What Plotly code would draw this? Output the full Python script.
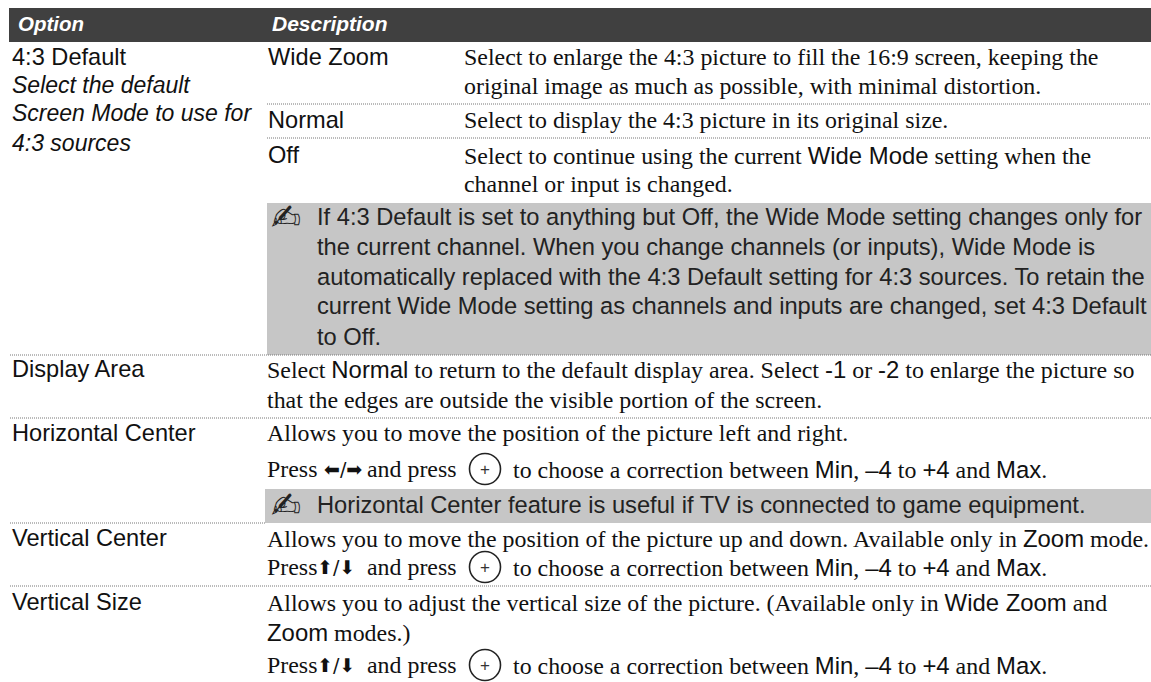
import plotly.graph_objects as go

SANS = "Liberation Sans"
SERIF = "Liberation Serif"

def s(t):
    return f"<span style='font-family:{SANS}'>{t}</span>"

def arrows(t):
    return f"<span style='font-family:DejaVu Sans;font-size:19px'>{t}</span>"

headers = ["Option", "Description"]
options = ["4:3 Default", "Display Area", "Horizontal Center", "Vertical Center", "Vertical Size"]
option_notes = ["Select the default", "Screen Mode to use for", "4:3 sources"]
submodes = ["Wide Zoom", "Normal", "Off"]
descriptions = [
    "Select to enlarge the 4:3 picture to fill the 16:9 screen, keeping the",
    "original image as much as possible, with minimal distortion.",
    "Select to display the 4:3 picture in its original size.",
    f"Select to continue using the current {s('Wide Mode')} setting when the",
    "channel or input is changed.",
]
notes = [
    "If 4:3 Default is set to anything but Off, the Wide Mode setting changes only for",
    "the current channel. When you change channels (or inputs), Wide Mode is",
    "automatically replaced with the 4:3 Default setting for 4:3 sources. To retain the",
    "current Wide Mode setting as channels and inputs are changed, set 4:3 Default",
    "to Off.",
    "Horizontal Center feature is useful if TV is connected to game equipment.",
]
correction = f"to choose a correction between {s('Min')}, {s('–4')} to {s('+4')} and {s('Max')}."
body = [
    f"Select {s('Normal')} to return to the default display area. Select {s('-1')} or {s('-2')} to enlarge the picture so",
    "that the edges are outside the visible portion of the screen.",
    "Allows you to move the position of the picture left and right.",
    f"Allows you to move the position of the picture up and down. Available only in {s('Zoom')} mode.",
    f"Allows you to adjust the vertical size of the picture. (Available only in {s('Wide Zoom')} and",
    f"{s('Zoom')} modes.)",
]
arrow_lr = "⬅/➡"
arrow_ud = "⬆/⬇"

SANS_SIZE = 23.6
SERIF_SIZE = 23.9
fig = go.Figure()
ann = []
shapes = []

def T(x, y, text, fam=SANS, size=SANS_SIZE, color="#111111", anchor="left"):
    ann.append(dict(x=x, y=y, xref="x", yref="y", text=text, showarrow=False, xanchor=anchor, yanchor="middle",
                    font=dict(family=fam, size=size, color=color), borderpad=0))

def rect(x0, y0, x1, y1, col):
    shapes.append(dict(type="rect", x0=x0, y0=y0, x1=x1, y1=y1, xref="x", yref="y", fillcolor=col, line_width=0, layer="below"))

def dots(x0, x1, y):
    shapes.append(dict(type="line", x0=x0, x1=x1, y0=y, y1=y, xref="x", yref="y",
                       line=dict(color="#777777", width=1, dash="1px,1px"), layer="below"))

def plus(cx, cy):
    shapes.append(dict(type="circle", x0=cx-15.5, x1=cx+15.5, y0=cy-15.5, y1=cy+15.5, xref="x", yref="y",
                       line=dict(color="#222222", width=1.6)))
    ann.append(dict(x=cx, y=cy, xref="x", yref="y", text="+", showarrow=False, xanchor="center", yanchor="middle",
                    font=dict(family=SANS, size=17, color="#333333"), borderpad=0))

# header band
rect(9, 8, 1151, 42, "#404040")
T(17, 23, f"<b><i>{headers[0]}</i></b>", size=20.5, color="white")
T(271, 23, f"<b><i>{headers[1]}</i></b>", size=21, color="white")

# gray notes
rect(267, 203, 1151, 355, "#c6c6c6")
rect(265, 489, 1151, 523, "#c6c6c6")

# options column
for y, t in zip([57, 369, 433, 538, 602], options):
    T(11, y, t)
for y, t in zip([85, 113, 143], option_notes):
    T(11, y, f"<i>{t}</i>", size=23.0)
# sub modes
for y, t in zip([57, 120, 155], submodes):
    T(267, y, t)
# descriptions
for y, t in zip([57, 86, 120, 155, 184], descriptions):
    T(462.5, y, t, fam=SERIF, size=SERIF_SIZE)
# notes
for y, t in zip([217, 247, 277, 306, 337, 505], notes):
    T(316, y, t, size=23.7, color="#222222")
for y in (217, 505):
    T(270, y, "✍", fam="DejaVu Sans", size=36, color="#222222")
# body
for y, t in zip([369, 400, 433, 538, 602, 632], body):
    T(266, y, t, fam=SERIF, size=SERIF_SIZE)
# press lines
for y, lab, ax in [(469, arrow_lr, 323), (567, arrow_ud, 316), (665, arrow_ud, 316)]:
    T(266, y, "Press", fam=SERIF, size=SERIF_SIZE)
    T(ax, y, arrows(lab), fam=SERIF, size=SERIF_SIZE)
    T(458, y, "and press", fam=SERIF, size=SERIF_SIZE, anchor="right")
    plus(485, y)
    T(512, y, correction, fam=SERIF, size=SERIF_SIZE)

dots(267, 1151, 104)
dots(267, 1151, 138)
dots(10, 1151, 355)
dots(10, 1151, 418)
dots(10, 265, 523)
dots(10, 1151, 586)

fig.update_layout(
    width=1151, height=682, margin=dict(l=0, r=0, t=0, b=0), paper_bgcolor="white", plot_bgcolor="white",
    xaxis=dict(range=[0, 1151], visible=False, fixedrange=True),
    yaxis=dict(range=[682, 0], visible=False, fixedrange=True),
    annotations=ann, shapes=shapes, showlegend=False,
)
fig.write_html("out.html", config=dict(displayModeBar=False),
               post_script="document.body.style.margin='0';document.body.style.overflow='hidden';")
